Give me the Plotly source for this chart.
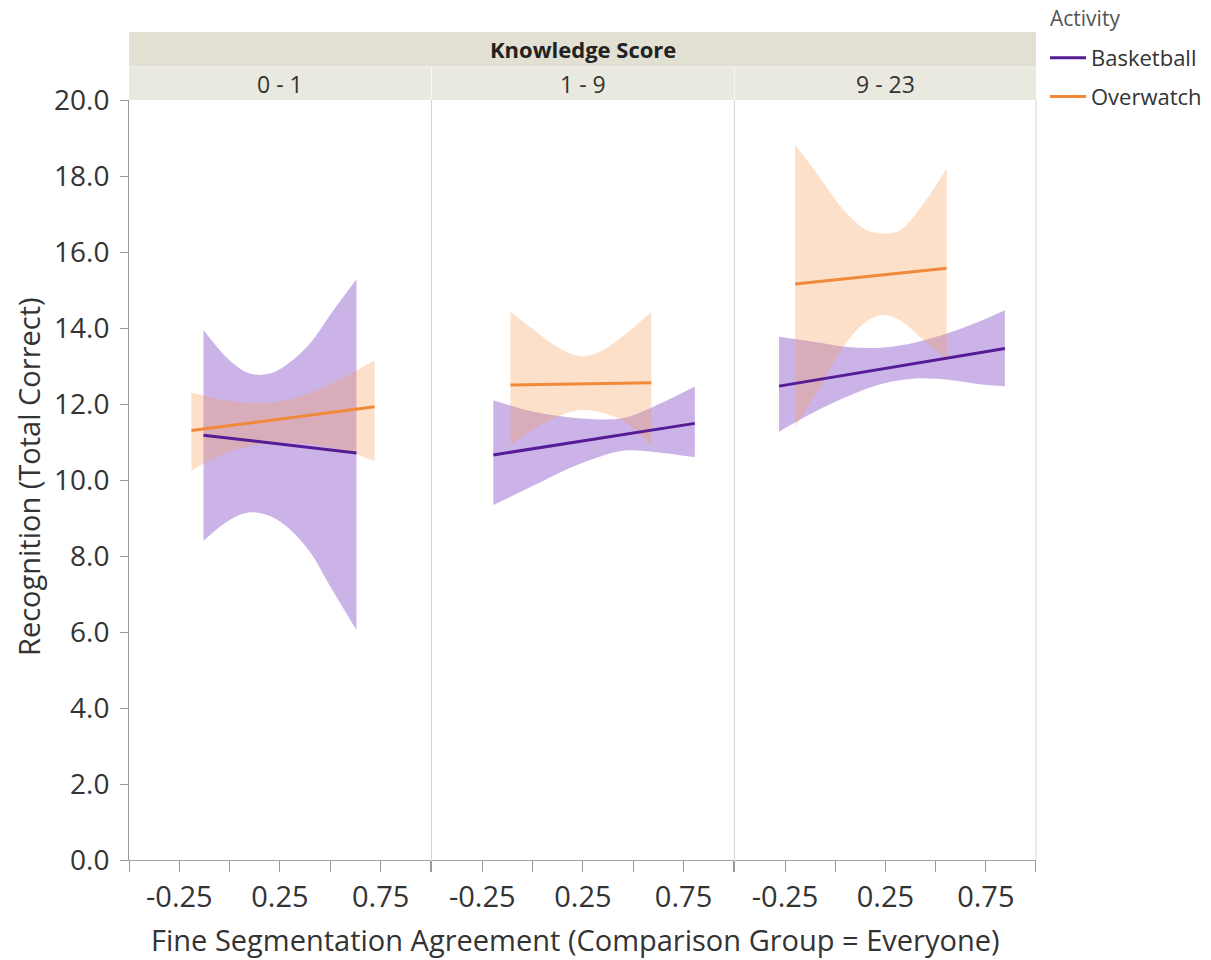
import plotly.graph_objects as go

# Knowledge-score panels
panel_labels = ["0 - 1", "1 - 9", "9 - 23"]

# Fitted lines: start/end x and y per panel
bb_fit_x = [[-0.13, 0.63], [-0.195, 0.806], [-0.28, 0.845]]
bb_fit_y = [[11.18, 10.71], [10.66, 11.49], [12.47, 13.46]]
ow_fit_x = [[-0.19, 0.72], [-0.11, 0.59], [-0.20, 0.555]]
ow_fit_y = [[11.30, 11.93], [12.50, 12.56], [15.16, 15.57]]

# Confidence bands (Basketball)
bb_band_x = [
    [-0.13, 0.0, 0.1, 0.2, 0.3, 0.4, 0.5, 0.63],
    [-0.195, 0.0, 0.15, 0.3, 0.45, 0.6, 0.806],
    [-0.28, -0.1, 0.06, 0.24, 0.4, 0.57, 0.72, 0.845],
]
bb_band_hi = [
    [13.95, 13.15, 12.80, 12.80, 13.10, 13.60, 14.35, 15.28],
    [12.10, 11.80, 11.67, 11.60, 11.63, 11.93, 12.46],
    [13.77, 13.63, 13.50, 13.49, 13.62, 13.88, 14.18, 14.47],
]
bb_band_lo = [
    [8.40, 8.95, 9.15, 9.05, 8.70, 8.10, 7.20, 6.05],
    [9.34, 9.84, 10.23, 10.55, 10.77, 10.74, 10.60],
    [11.27, 11.80, 12.20, 12.54, 12.67, 12.63, 12.52, 12.47],
]

# Confidence bands (Overwatch)
ow_band_x = [
    [-0.19, 0.0, 0.2, 0.38, 0.55, 0.72],
    [-0.11, 0.0, 0.12, 0.24, 0.35, 0.47, 0.59],
    [-0.20, -0.075, 0.04, 0.155, 0.24, 0.325, 0.44, 0.555],
]
ow_band_hi = [
    [12.30, 12.08, 12.03, 12.25, 12.65, 13.15],
    [14.43, 13.98, 13.51, 13.25, 13.42, 13.88, 14.43],
    [18.82, 17.95, 17.12, 16.58, 16.49, 16.58, 17.28, 18.20],
]
ow_band_lo = [
    [10.25, 10.75, 10.97, 10.95, 10.80, 10.50],
    [10.92, 11.32, 11.66, 11.84, 11.76, 11.49, 10.90],
    [11.40, 12.46, 13.50, 14.17, 14.34, 14.20, 13.68, 13.20],
]

x_tickvals = [-0.5, -0.25, 0.0, 0.25, 0.5, 0.75, 1.0]
x_ticktext = ["", "-0.25", "", "0.25", "", "0.75", ""]
y_tickvals = [0, 2, 4, 6, 8, 10, 12, 14, 16, 18, 20]

BB_LINE = "#561c96"
OW_LINE = "#f08a3a"
BB_FILL = "rgba(112,44,192,0.36)"
OW_FILL = "rgba(248,160,90,0.32)"
FONT = "Open Sans"
TXT = "#333333"

domains = [[0.0, 0.3329], [0.3340, 0.6669], [0.6680, 1.0]]

fig = go.Figure()


def add_band(xs, lo, hi, color, i):
    ax = dict(xaxis=f"x{i + 1}", yaxis=f"y{i + 1}")
    fig.add_trace(go.Scatter(x=xs, y=lo, mode="lines", line=dict(width=0, shape="spline"),
                             showlegend=False, hoverinfo="skip", **ax))
    fig.add_trace(go.Scatter(x=xs, y=hi, mode="lines", line=dict(width=0, shape="spline"),
                             fill="tonexty", fillcolor=color,
                             showlegend=False, hoverinfo="skip", **ax))


for i in range(3):
    add_band(bb_band_x[i], bb_band_lo[i], bb_band_hi[i], BB_FILL, i)
    add_band(ow_band_x[i], ow_band_lo[i], ow_band_hi[i], OW_FILL, i)

for i in range(3):
    ax = dict(xaxis=f"x{i + 1}", yaxis=f"y{i + 1}")
    fig.add_trace(go.Scatter(x=bb_fit_x[i], y=bb_fit_y[i], mode="lines",
                             line=dict(color=BB_LINE, width=3), name="Basketball",
                             legendgroup="bb", showlegend=(i == 0), **ax))
    fig.add_trace(go.Scatter(x=ow_fit_x[i], y=ow_fit_y[i], mode="lines",
                             line=dict(color=OW_LINE, width=3), name="Overwatch",
                             legendgroup="ow", showlegend=(i == 0), **ax))

px = lambda p: (860 - p) / 760.0   # pixel row -> paper y
pxx = lambda p: (p - 129) / 907.0  # pixel column -> paper x

layout = dict(
    width=1211, height=960,
    margin=dict(l=129, r=175, t=100, b=100, autoexpand=False),
    paper_bgcolor="white", plot_bgcolor="white",
    font=dict(family=FONT, color=TXT),
    legend=dict(x=pxx(1045), y=px(37), xanchor="left", yanchor="top",
                font=dict(size=22, color=TXT), tracegroupgap=7, itemwidth=36,
                bgcolor="rgba(0,0,0,0)"),
)
for i in range(3):
    layout[f"xaxis{i + 1}"] = dict(
        domain=domains[i], range=[-0.5, 1.0], anchor=f"y{i + 1}",
        tickvals=x_tickvals, ticktext=x_ticktext, ticks="outside", ticklen=11,
        tickcolor="#9a9a9a", showline=True, linecolor="#a6a6a6", linewidth=1,
        showgrid=False, zeroline=False, tickfont=dict(size=29, color=TXT),
    )
    yax = dict(domain=[0, 1], range=[0, 20], anchor=f"x{i + 1}",
               showgrid=False, zeroline=False)
    if i == 0:
        yax.update(tickvals=y_tickvals, tickformat=".1f", ticks="outside", ticklen=8,
                   tickcolor="#9a9a9a", showline=True, linecolor="#9a9a9a",
                   tickfont=dict(size=28, color=TXT), ticklabelstandoff=5)
    else:
        yax.update(showticklabels=False, ticks="", showline=False, matches="y")
    layout[f"yaxis{i + 1}"] = yax

fig.update_layout(**layout)

# Header strips above the panels
shapes = [
    dict(type="rect", xref="paper", yref="paper", x0=0, x1=1, y0=px(67), y1=px(32),
         fillcolor="#e1e0d3", line=dict(width=0)),
    dict(type="rect", xref="paper", yref="paper", x0=0, x1=1, y0=px(100), y1=px(67),
         fillcolor="#eae9df", line=dict(width=0)),
    dict(type="line", xref="paper", yref="paper", x0=0, x1=1, y0=px(67), y1=px(67),
         line=dict(color="#f4f4ee", width=1)),
]
for b in [domains[1][0] - 0.0005, domains[2][0] - 0.0005]:
    shapes.append(dict(type="line", xref="paper", yref="paper", x0=b, x1=b,
                       y0=px(100), y1=px(67), line=dict(color="#f7f7f3", width=1)))
    shapes.append(dict(type="line", xref="paper", yref="paper", x0=b, x1=b,
                       y0=0, y1=1, line=dict(color="#d4d4d4", width=1)))
shapes.append(dict(type="line", xref="paper", yref="paper", x0=1, x1=1,
                   y0=0, y1=1, line=dict(color="#d4d4d4", width=1)))
fig.update_layout(shapes=shapes)

annotations = [
    dict(text="<b>Knowledge Score</b>", xref="paper", yref="paper", x=0.5, y=px(49.5),
         showarrow=False, font=dict(size=22, color="#222222"), xanchor="center", yanchor="middle"),
    dict(text="Activity", xref="paper", yref="paper", x=pxx(1048), y=px(18),
         showarrow=False, font=dict(size=21, color="#555555"), xanchor="left", yanchor="middle"),
    dict(text="Recognition (Total Correct)", xref="paper", yref="paper",
         x=pxx(28), y=px(477), textangle=-90, showarrow=False,
         font=dict(size=29, color=TXT), xanchor="center", yanchor="middle"),
    dict(text="Fine Segmentation Agreement (Comparison Group = Everyone)", xref="paper",
         yref="paper", x=pxx(575), y=px(940), showarrow=False,
         font=dict(size=29, color=TXT), xanchor="center", yanchor="middle"),
]
for i, lab in enumerate(panel_labels):
    annotations.append(dict(text=lab, xref="paper", yref="paper",
                            x=(domains[i][0] + domains[i][1]) / 2, y=px(84),
                            showarrow=False, font=dict(size=23, color=TXT),
                            xanchor="center", yanchor="middle"))
fig.update_layout(annotations=annotations)

fig.write_html("out.html")
